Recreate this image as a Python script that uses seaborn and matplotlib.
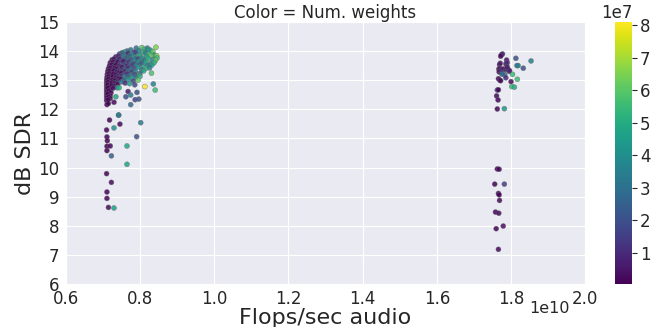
import numpy as np
import pandas as pd
import seaborn as sns
import matplotlib.pyplot as plt
from matplotlib.colors import Normalize
from matplotlib.cm import ScalarMappable

# flops/sec in units of 1e10, SDR in dB, num. weights in units of 1e7
# left cluster, dense part (x, y, weights)
dense_x = [0.790, 0.805, 0.812, 0.843, 0.828, 0.820,
           0.765, 0.775, 0.785, 0.797, 0.810, 0.822, 0.835, 0.757,
           0.745, 0.752, 0.760, 0.768, 0.778, 0.788, 0.800, 0.815, 0.825, 0.838, 0.845,
           0.735, 0.742, 0.750, 0.758, 0.765, 0.772, 0.782, 0.790, 0.798, 0.808, 0.818, 0.830, 0.846,
           0.725, 0.730, 0.738, 0.745, 0.752, 0.760, 0.768, 0.776, 0.785, 0.795, 0.803, 0.812, 0.822, 0.834, 0.842,
           0.720, 0.728, 0.734, 0.740, 0.748, 0.755, 0.763, 0.770, 0.778, 0.787, 0.796, 0.806, 0.816, 0.828, 0.838,
           0.718, 0.724, 0.730, 0.736, 0.743, 0.750, 0.757, 0.765, 0.772, 0.780, 0.790, 0.800, 0.810, 0.820, 0.832,
           0.715, 0.720, 0.726, 0.732, 0.738, 0.745, 0.752, 0.760, 0.768, 0.776, 0.785, 0.795, 0.805, 0.815, 0.826,
           0.713, 0.718, 0.724, 0.730, 0.737, 0.744, 0.752, 0.760, 0.768, 0.778, 0.788, 0.798, 0.810, 0.831,
           0.712, 0.717, 0.722, 0.728, 0.735, 0.742, 0.750, 0.758, 0.766, 0.776, 0.786, 0.800,
           0.711, 0.716, 0.721, 0.727, 0.734, 0.742, 0.750, 0.758, 0.768, 0.778, 0.790, 0.800,
           0.710, 0.715, 0.720, 0.726, 0.733, 0.740, 0.748, 0.757, 0.768, 0.782, 0.795,
           0.710, 0.714, 0.719, 0.725, 0.732, 0.740, 0.750, 0.760, 0.772, 0.836,
           0.710, 0.713, 0.718, 0.724, 0.730, 0.738, 0.744, 0.813, 0.786,
           0.710, 0.714, 0.720, 0.727, 0.841, 0.768, 0.792,
           0.710, 0.716, 0.722,
           0.710, 0.713, 0.720, 0.775, 0.762, 0.735,
           0.710, 0.715, 0.720,
           0.710, 0.714, 0.787, 0.797,
           0.711, 0.715, 0.730, 0.775]
dense_y = [14.10, 14.12, 14.06, 14.13, 14.03, 14.10,
           14.00, 14.04, 13.96, 14.01, 13.97, 14.03, 13.98, 13.96,
           13.90, 13.94, 13.87, 13.92, 13.89, 13.95, 13.87, 13.93, 13.90, 13.86, 13.84,
           13.80, 13.83, 13.77, 13.82, 13.76, 13.84, 13.79, 13.77, 13.83, 13.76, 13.81, 13.84, 13.76,
           13.70, 13.73, 13.67, 13.72, 13.69, 13.66, 13.74, 13.70, 13.67, 13.73, 13.69, 13.66, 13.74, 13.70, 13.68,
           13.60, 13.63, 13.57, 13.62, 13.59, 13.64, 13.56, 13.62, 13.59, 13.57, 13.64, 13.59, 13.62, 13.56, 13.60,
           13.50, 13.53, 13.47, 13.52, 13.49, 13.46, 13.54, 13.49, 13.47, 13.53, 13.50, 13.54, 13.46, 13.50, 13.52,
           13.40, 13.43, 13.37, 13.42, 13.39, 13.36, 13.44, 13.40, 13.42, 13.37, 13.40, 13.44, 13.36, 13.40, 13.42,
           13.30, 13.33, 13.27, 13.32, 13.29, 13.26, 13.34, 13.30, 13.32, 13.27, 13.30, 13.20, 13.32, 13.24,
           13.20, 13.23, 13.17, 13.22, 13.19, 13.16, 13.24, 13.20, 13.22, 13.17, 13.20, 13.23,
           13.10, 13.13, 13.07, 13.12, 13.09, 13.06, 13.14, 13.10, 13.12, 13.07, 13.10, 13.13,
           13.00, 13.03, 12.97, 13.02, 12.99, 12.96, 13.04, 13.00, 13.02, 12.97, 13.00,
           12.90, 12.93, 12.87, 12.92, 12.89, 12.86, 12.94, 12.90, 12.88, 12.87,
           12.80, 12.83, 12.77, 12.82, 12.79, 12.74, 12.74, 12.78, 12.84,
           12.70, 12.73, 12.67, 12.72, 12.66, 12.61, 12.58,
           12.60, 12.63, 12.57,
           12.50, 12.53, 12.47, 12.49, 12.43, 12.43,
           12.40, 12.43, 12.37,
           12.30, 12.33, 12.33, 12.35,
           12.16, 12.20, 12.24, 12.16]
dense_w = [3.0, 6.0, 5.5, 6.5, 4.0, 3.5,
           2.5, 3.0, 1.0, 3.5, 5.0, 4.5, 6.0, 5.0,
           1.5, 2.5, 3.0, 1.0, 4.0, 2.0, 4.5, 3.5, 5.5, 4.0, 6.5,
           0.5, 1.0, 2.0, 3.5, 1.5, 2.5, 4.0, 3.0, 5.0, 3.5, 4.5, 6.0, 5.5,
           0.3, 0.5, 1.2, 0.8, 2.0, 1.0, 3.0, 2.2, 3.5, 1.8, 4.2, 3.0, 5.0, 4.0, 6.0,
           0.2, 0.4, 0.8, 0.3, 1.5, 0.6, 2.5, 1.2, 3.2, 2.0, 4.0, 2.8, 4.8, 3.5, 5.2,
           0.2, 0.3, 0.6, 0.2, 1.0, 0.4, 1.8, 0.8, 2.6, 1.5, 3.8, 2.4, 5.0, 3.2, 4.5,
           0.1, 0.3, 0.2, 0.5, 0.3, 1.2, 0.5, 2.2, 1.0, 3.0, 1.8, 4.2, 2.6, 5.4, 3.6,
           0.1, 0.2, 0.4, 0.2, 0.8, 0.3, 1.6, 0.6, 2.8, 1.4, 3.6, 8.0, 4.8, 5.8,
           0.1, 0.2, 0.1, 0.3, 0.2, 0.9, 0.4, 2.0, 1.2, 3.4, 2.0, 3.0,
           0.1, 0.2, 0.3, 0.1, 0.6, 0.2, 1.4, 3.8, 2.4, 4.6, 3.0, 5.2,
           0.1, 0.1, 0.2, 0.4, 0.2, 1.0, 0.3, 2.6, 4.0, 1.6, 6.0,
           0.1, 0.2, 0.1, 0.3, 0.5, 0.2, 3.2, 1.0, 4.4, 3.6,
           0.1, 0.1, 0.2, 0.1, 0.4, 3.5, 5.0, 8.1, 1.8,
           0.1, 0.1, 0.2, 0.3, 5.5, 0.6, 2.0,
           0.1, 0.2, 0.1,
           0.1, 0.1, 0.3, 3.4, 2.0, 4.8,
           0.1, 0.1, 0.2,
           0.1, 0.2, 1.5, 2.2,
           0.1, 0.1, 0.2, 2.8]

# left cluster, sparse tail
tail_x = [0.718, 0.746, 0.742, 0.730, 0.710, 0.802, 0.743, 0.791, 0.711, 0.712,
          0.711, 0.720, 0.711, 0.723, 0.765, 0.765, 0.710, 0.723, 0.711, 0.711,
          0.715, 0.730]
tail_y = [11.63, 11.49, 11.80, 11.36, 11.29, 11.54, 11.80, 11.06, 11.05, 10.92,
          10.73, 10.74, 10.58, 10.40, 10.74, 10.11, 9.79, 9.49, 9.16, 8.94,
          8.63, 8.61]
tail_w = [0.1, 0.2, 2.5, 4.0, 0.1, 3.3, 3.5, 2.0, 0.1, 0.1,
          0.1, 0.2, 0.1, 2.5, 4.8, 4.8, 0.1, 0.2, 0.1, 0.1,
          0.2, 4.5]

# right cluster
right_x = [1.774, 1.777, 1.772, 1.813, 1.854, 1.788, 1.769, 1.771, 1.786, 1.790,
           1.816, 1.819, 1.833, 1.767, 1.770, 1.774, 1.780, 1.785, 1.792, 1.768,
           1.774, 1.795, 1.776, 1.804, 1.817, 1.783, 1.786, 1.766, 1.770, 1.772,
           1.800, 1.802, 1.809, 1.763, 1.766, 1.761, 1.765, 1.763, 1.782, 1.763,
           1.768, 1.756, 1.782, 1.766, 1.768, 1.769, 1.758, 1.767, 1.779, 1.760,
           1.766, 1.790, 1.796]
right_y = [13.87, 13.90, 13.82, 13.75, 13.66, 13.69, 13.53, 13.58, 13.56, 13.60,
           13.50, 13.50, 13.41, 13.38, 13.40, 13.36, 13.39, 13.35, 13.37, 13.28,
           13.25, 13.30, 13.20, 13.20, 13.03, 13.18, 13.08, 13.05, 13.00, 12.98,
           12.95, 12.78, 12.76, 12.66, 12.67, 12.46, 12.32, 12.01, 12.02, 9.95,
           9.94, 9.43, 9.43, 9.11, 9.06, 8.87, 8.47, 8.43, 7.99, 7.90,
           7.19, 13.45, 13.33]
right_w = [0.3, 0.8, 0.2, 2.0, 3.5, 0.4, 0.2, 0.6, 0.3, 1.0,
           3.0, 3.5, 2.0, 0.2, 0.5, 0.8, 0.3, 1.2, 0.4, 0.2,
           1.5, 0.6, 3.0, 5.5, 5.5, 2.5, 1.0, 0.1, 0.2, 0.3,
           0.2, 5.5, 5.0, 1.2, 0.1, 0.2, 0.1, 0.1, 4.2, 0.1,
           0.2, 0.1, 1.5, 0.2, 0.1, 0.2, 0.1, 0.2, 0.3, 0.1,
           0.2, 0.5, 0.8]

y_ticks = list(range(6, 16))
cbar_ticks = [1e7, 2e7, 3e7, 4e7, 5e7, 6e7, 7e7, 8e7]

df = pd.DataFrame({
    'flops': np.array(dense_x + tail_x + right_x) * 1e10,
    'sdr': dense_y + tail_y + right_y,
    'weights': np.array(dense_w + tail_w + right_w) * 1e7,
})

sns.set_style('darkgrid')
fig = plt.figure(figsize=(6.51, 3.27), dpi=100)
ax = fig.add_axes([0.101, 0.1315, 0.798, 0.8015])
cax = fig.add_axes([0.945, 0.1315, 0.026, 0.8015])

norm = Normalize(vmin=0.04e7, vmax=8.1e7)
sns.scatterplot(data=df, x='flops', y='sdr', hue='weights', palette='viridis',
                hue_norm=norm, legend=False, s=13, edgecolor='0.4',
                linewidth=0.3, alpha=0.85, ax=ax)

ax.set_xlim(0.6e10, 2.0e10)
ax.set_ylim(6, 15)
ax.set_yticks(y_ticks)
ax.set_xlabel('Flops/sec audio', fontsize=16, labelpad=0)
ax.set_ylabel('dB SDR', fontsize=16, labelpad=2)
ax.set_title('Color = Num. weights', fontsize=12, pad=3)
ax.tick_params(labelsize=12, pad=1)

# offset label sits below-left of the last tick label, as in the original
ax.xaxis.get_offset_text().set_visible(False)
fig.text(0.875, 0.058, '1e10', ha='right', va='center', fontsize=11.5, color='0.15')

cb = fig.colorbar(ScalarMappable(norm=norm, cmap='viridis'), cax=cax)
cb.set_ticks(cbar_ticks)
cb.outline.set_visible(False)
cb.ax.tick_params(labelsize=12, pad=2)
cb.ax.yaxis.get_offset_text().set_fontsize(12)

plt.savefig('out.png', dpi=100)
